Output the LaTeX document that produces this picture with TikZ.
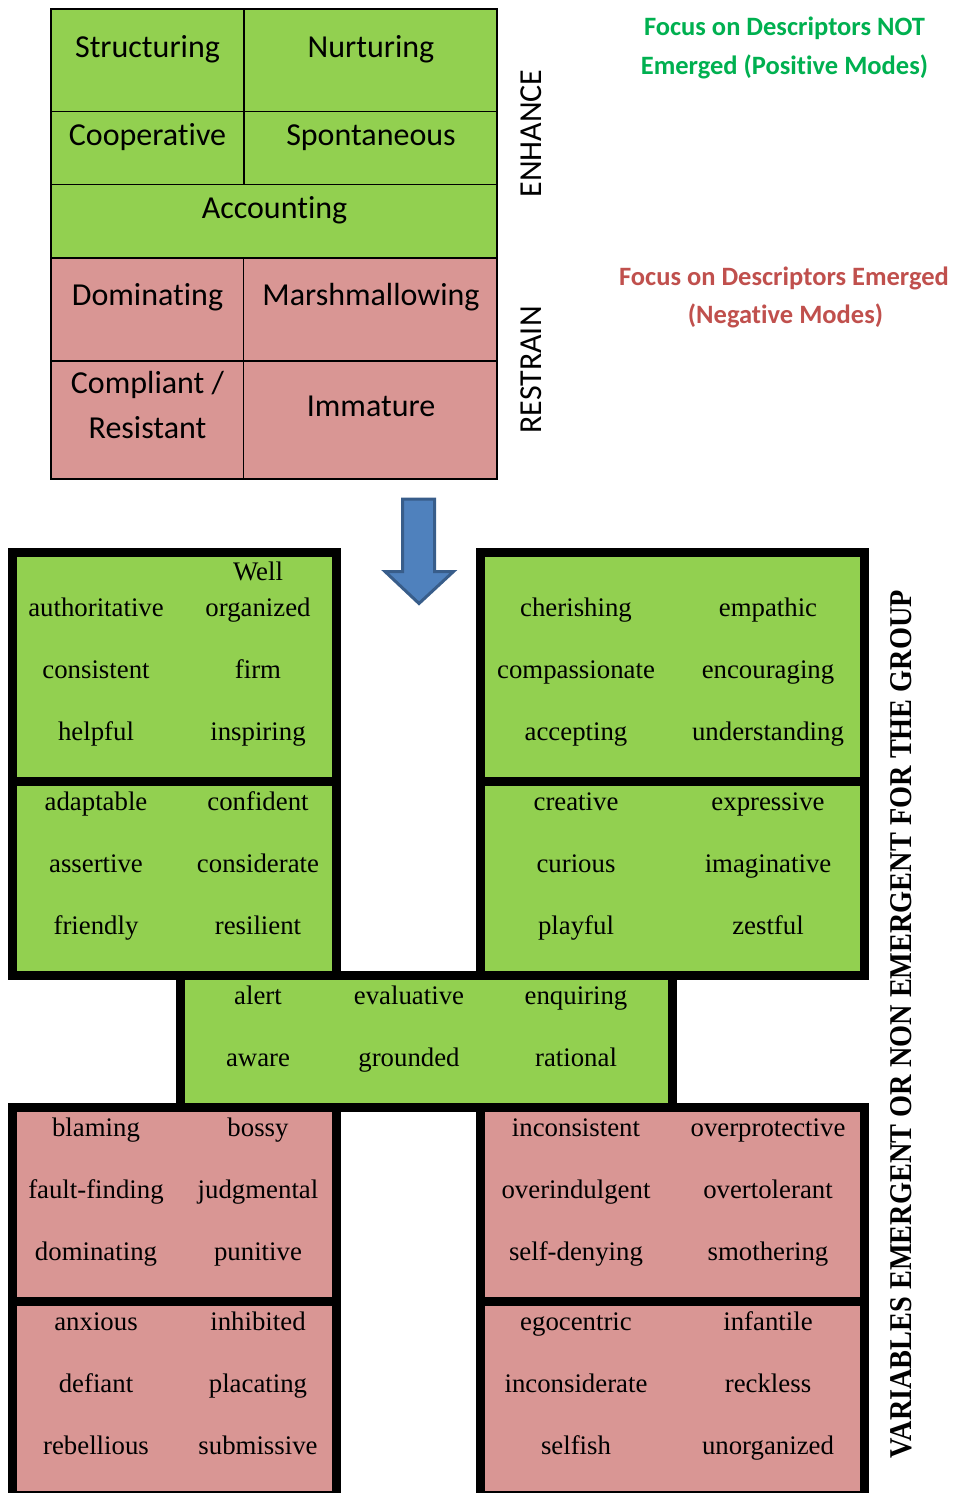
\documentclass[tikz,border=0pt]{standalone}
\usepackage{fontspec}
\setmainfont{Liberation Serif}
\newfontfamily\calibri[Ligatures=NoCommon]{Carlito}
\usepackage{graphicx}

\definecolor{cellgreen}{HTML}{92D050}
\definecolor{cellpink}{HTML}{D99694}
\definecolor{posgreen}{HTML}{00B050}
\definecolor{negred}{HTML}{C0504D}
\definecolor{arrowblue}{HTML}{4F81BD}
\definecolor{arrowedge}{HTML}{385D8A}

\begin{document}
\begin{tikzpicture}[x=1pt,y=-1pt,
  gridcell/.style={draw=black,line width=1.6pt},
  poscell/.style={fill=cellgreen},
  negcell/.style={fill=cellpink},
  frame/.style={fill=black},
  toplabel/.style={font=\calibri\fontsize{32}{38}\selectfont,anchor=base,inner sep=0pt},
  sidelabel/.style={toplabel,rotate=90},
  heading/.style={font=\calibri\bfseries\fontsize{26.5}{32}\selectfont,anchor=base,inner sep=0pt},
  word/.style={font=\fontsize{26.8}{32}\selectfont,anchor=base,inner sep=0pt},
  bigarrow/.style={draw=arrowedge,fill=arrowblue,line width=3pt,line join=miter}]

\useasboundingbox (0,0) rectangle (956,1493);
\clip (0,0) rectangle (956,1493);

% ---------- modes table ----------
\path[gridcell,poscell] (51,9) rectangle (244,111.5);
\path[gridcell,poscell] (244,9) rectangle (497,111.5);
\path[gridcell,poscell] (51,111.5) rectangle (244,184.5);
\path[gridcell,poscell] (244,111.5) rectangle (497,184.5);
\path[gridcell,poscell] (51,184.5) rectangle (497,258);
\path[gridcell,negcell] (51,258) rectangle (243.5,361);
\path[gridcell,negcell] (243.5,258) rectangle (497,361);
\path[gridcell,negcell] (51,361) rectangle (243.5,479);
\path[gridcell,negcell] (243.5,361) rectangle (497,479);

\node[toplabel] (structuring) at (147.5,58) {Structuring};
\node[toplabel] (nurturing) at (371,58) {Nurturing};
\node[toplabel] (cooperative) at (147.5,145.5) {Cooperative};
\node[toplabel] (spontaneous) at (371,145.5) {Spontaneous};
\node[toplabel] (accounting) at (274.5,218) {Accounting};
\node[toplabel] (dominatingmode) at (147.5,305.5) {Dominating};
\node[toplabel] (marshmallowing) at (371,305.5) {Marshmallowing};
\node[toplabel] (compliant) at (147.5,393.5) {Compliant /};
\node[toplabel] (resistant) at (147.5,438.5) {Resistant};
\node[toplabel] (immature) at (371,416) {Immature};

\node[sidelabel] (enhance) at (541.5,133.5) {ENHANCE};
\node[sidelabel] (restrain) at (541.5,370) {RESTRAIN};

% ---------- focus notes ----------
\node[heading,text=posgreen] (posA) at (784.5,35.5) {Focus on Descriptors NOT};
\node[heading,text=posgreen] (posB) at (784.5,75) {Emerged (Positive Modes)};
\node[heading,text=negred] (negA) at (784,285) {Focus on Descriptors Emerged};
\node[heading,text=negred] (negB) at (785.5,323.5) {(Negative Modes)};

% ---------- down arrow ----------
\path[bigarrow] (402.5,499) -- (434.5,499) -- (434.5,571.5) -- (453.5,571.5)
  -- (419,603.5) -- (385,571.5) -- (402.5,571.5) -- cycle;

% ---------- descriptor blocks: black frames ----------
\path[frame] (8,548) rectangle (341,980);
\path[frame] (476,548) rectangle (869,980);
\path[frame] (176,971) rectangle (677,1112);
\path[frame] (8,1103) rectangle (341,1500);
\path[frame] (476,1103) rectangle (869,1500);

% ---------- descriptor blocks: cells ----------
\path[poscell] (17,557) rectangle (332,776.5);
\path[poscell] (17,786) rectangle (332,971);
\path[poscell] (485,557) rectangle (860,776.5);
\path[poscell] (485,786) rectangle (860,971);
\path[poscell] (185,980) rectangle (668,1103);
\path[negcell] (17,1112) rectangle (332,1297);
\path[negcell] (17,1306) rectangle (332,1491);
\path[negcell] (485,1112) rectangle (860,1297);
\path[negcell] (485,1306) rectangle (860,1491);

% ---------- descriptor words ----------
\node[word] (well) at (258,580.5) {Well};
\foreach \t/\n/\x/\y in {
  authoritative/ul1/96/616, organized/ul2/258/616,
  consistent/ul3/96/678, firm/ul4/258/678,
  helpful/ul5/96/740, inspiring/ul6/258/740,
  adaptable/ul7/96/810, confident/ul8/258/810,
  assertive/ul9/96/872, considerate/ul10/258/872,
  friendly/ul11/96/934, resilient/ul12/258/934,
  cherishing/ur1/576/616, empathic/ur2/768/616,
  compassionate/ur3/576/678, encouraging/ur4/768/678,
  accepting/ur5/576/740, understanding/ur6/768/740,
  creative/ur7/576/810, expressive/ur8/768/810,
  curious/ur9/576/872, imaginative/ur10/768/872,
  playful/ur11/576/934, zestful/ur12/768/934,
  alert/md1/258/1004, evaluative/md2/409/1004, enquiring/md3/576/1004,
  aware/md4/258/1066, grounded/md5/409/1066, rational/md6/576/1066,
  blaming/ll1/96/1136, bossy/ll2/258/1136,
  fault-finding/ll3/96/1198, judgmental/ll4/258/1198,
  dominating/ll5/96/1260, punitive/ll6/258/1260,
  anxious/ll7/96/1330, inhibited/ll8/258/1330,
  defiant/ll9/96/1392, placating/ll10/258/1392,
  rebellious/ll11/96/1454, submissive/ll12/258/1454,
  inconsistent/lr1/576/1136, overprotective/lr2/768/1136,
  overindulgent/lr3/576/1198, overtolerant/lr4/768/1198,
  self-denying/lr5/576/1260, smothering/lr6/768/1260,
  egocentric/lr7/576/1330, infantile/lr8/768/1330,
  inconsiderate/lr9/576/1392, reckless/lr10/768/1392,
  selfish/lr11/576/1454, unorganized/lr12/768/1454}
  \node[word] (\n) at (\x,\y) {\t};

% ---------- side caption ----------
\node[rotate=90,anchor=base,inner sep=0pt,font=\bfseries\fontsize{28.3}{34}\selectfont]
  (caption) at (911,1024)
  {\scalebox{1}[1.12]{VARIABLES EMERGENT OR NON EMERGENT FOR THE GROUP}};

\end{tikzpicture}
\end{document}
